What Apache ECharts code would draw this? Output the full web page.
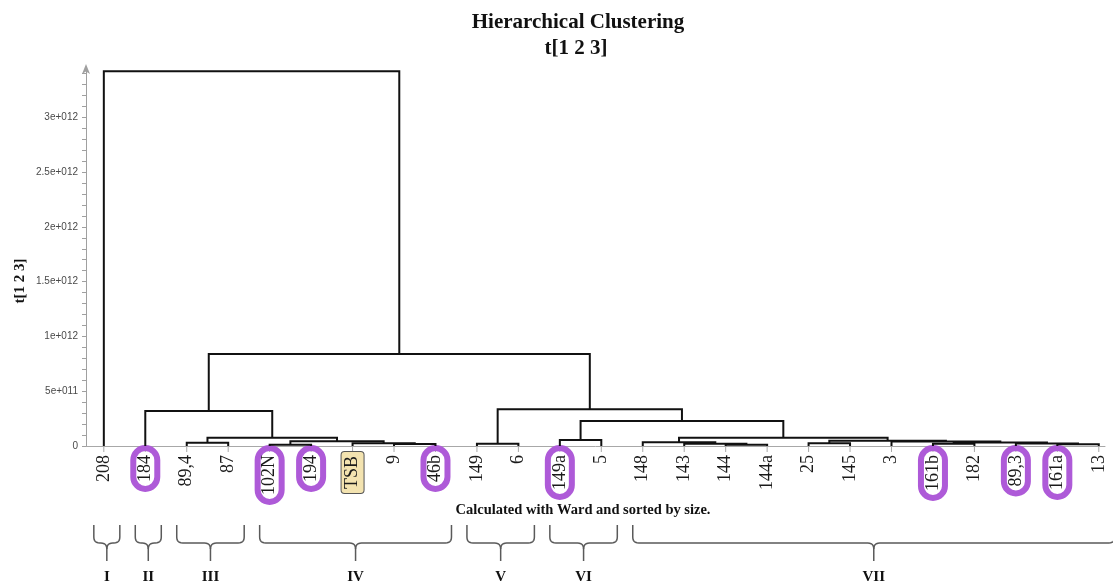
<!DOCTYPE html>
<html>
<head>
<meta charset="utf-8">
<script src="https://cdn.jsdelivr.net/npm/echarts@6/dist/echarts.min.js"></script>
<style>
  html, body { margin: 0; padding: 0; background: #fff; }
  #chart { width: 1113px; height: 585px; }
</style>
</head>
<body>
<div id="chart"></div>
<script>
// Leaves of the dendrogram, left to right
const leafLabels = ['208', '184', '89,4', '87', '102N', '194', 'TSB', '9', '46b',
  '149', '6', '149a', '5', '148', '143', '144', '144a', '25', '145', '3',
  '161b', '182', '89,3', '161a', '13'];

// Leaves drawn with a purple ring, and the reference strain
const ringedLeaves = ['184', '102N', '194', '46b', '149a', '161b', '89,3', '161a'];
const referenceLeaves = ['TSB'];

// Ward linkage: node ids 0..24 are leaves, merge k creates node 25 + k
const mergeLeft  = [2, 7, 6, 4, 28, 25, 1, 9, 11, 15, 14, 13, 17, 20, 23, 22, 38, 19, 37, 36, 33, 32, 31, 0];
const mergeRight = [3, 8, 26, 5, 27, 29, 30, 10, 12, 16, 34, 35, 18, 21, 24, 39, 40, 41, 42, 43, 44, 45, 46, 47];
const mergeHeight = [0.03e12, 0.018e12, 0.025e12, 0.012e12, 0.043e12, 0.076e12, 0.32e12,
  0.02e12, 0.055e12, 0.012e12, 0.02e12, 0.034e12, 0.025e12, 0.02e12, 0.015e12,
  0.022e12, 0.033e12, 0.04e12, 0.047e12, 0.076e12, 0.228e12, 0.335e12, 0.84e12, 3.42e12];

// Y axis labels
const yTickValues = [0, 5e11, 1e12, 1.5e12, 2e12, 2.5e12, 3e12];
const yTickLabels = ['0', '5e+011', '1e+012', '1.5e+012', '2e+012', '2.5e+012', '3e+012'];

// Cluster groups marked with braces under the leaves
const groupNames = ['I', 'II', 'III', 'IV', 'V', 'VI', 'VII'];
const groupFirst = [0, 1, 2, 4, 9, 11, 13];
const groupLast  = [0, 1, 3, 8, 10, 12, 24];

// Node positions: leaves sit at their index, a merge sits between its children
const nodeX = leafLabels.map((_, i) => i);
const nodeH = leafLabels.map(() => 0);
mergeLeft.forEach((l, k) => {
  const r = mergeRight[k];
  nodeX.push((nodeX[l] + nodeX[r]) / 2);
  nodeH.push(mergeHeight[k]);
});

const linkData = mergeLeft.map((l, k) => {
  const r = mergeRight[k];
  return [nodeX[l], nodeX[r], mergeHeight[k], nodeH[l], nodeH[r]];
});
const leafData = leafLabels.map((_, i) => [i, 0]);
const groupData = groupNames.map((_, g) => [groupFirst[g], groupLast[g], 0]);

const SERIF = '"Liberation Serif", "Times New Roman", serif';
const PURPLE = '#ae5ad8';

function quad(p0, c, p1, n) {
  const pts = [];
  for (let i = 1; i <= n; i++) {
    const t = i / n, u = 1 - t;
    pts.push([u * u * p0[0] + 2 * u * t * c[0] + t * t * p1[0],
              u * u * p0[1] + 2 * u * t * c[1] + t * t * p1[1]]);
  }
  return pts;
}

const chart = echarts.init(document.getElementById('chart'), null, { renderer: 'canvas' });

chart.setOption({
  backgroundColor: '#ffffff',
  animation: false,
  title: [
    {
      text: 'Hierarchical Clustering',
      left: 573, top: 7, textAlign: 'center',
      textStyle: { fontFamily: SERIF, fontWeight: 'bold', fontSize: 21, color: '#111' }
    },
    {
      text: 't[1 2 3]',
      left: 571, top: 33, textAlign: 'center',
      textStyle: { fontFamily: SERIF, fontWeight: 'bold', fontSize: 21, color: '#111' }
    },
    {
      text: 'Calculated with Ward and sorted by size.',
      left: 578, top: 498, textAlign: 'center',
      textStyle: { fontFamily: SERIF, fontWeight: 'bold', fontSize: 14.5, color: '#111' }
    }
  ],
  graphic: [
    {
      type: 'text', x: 20, y: 281, rotation: Math.PI / 2,
      style: {
        text: 't[1 2 3]', font: 'bold 15px ' + SERIF, fill: '#111',
        align: 'center', verticalAlign: 'middle'
      }
    }
  ],
  grid: { left: 86, right: 8, top: 68, bottom: 139 },
  xAxis: {
    type: 'value',
    min: -0.43,
    max: 24.15,
    axisLine: { show: true, onZero: false, lineStyle: { color: '#a8a8a8', width: 1 } },
    axisTick: { show: false },
    axisLabel: { show: false },
    splitLine: { show: false }
  },
  yAxis: {
    type: 'value',
    min: 0,
    max: 3.45e12,
    interval: 1e11,
    axisLine: {
      show: true, onZero: false, symbol: ['none', 'arrow'], symbolSize: [6, 10], symbolOffset: [0, 4],
      lineStyle: { color: '#a0a0a0', width: 1 }
    },
    axisTick: { show: true, length: 4, lineStyle: { color: '#a0a0a0' } },
    axisLabel: {
      color: '#4a4a4a', fontSize: 10, fontFamily: '"Liberation Sans", Arial, sans-serif', margin: 8,
      showMaxLabel: false,
      formatter: v => {
        const i = yTickValues.findIndex(t => Math.abs(t - v) < 1e6);
        return i >= 0 ? yTickLabels[i] : '';
      }
    },
    splitLine: { show: false }
  },
  series: [
    {
      // dendrogram links
      type: 'custom',
      coordinateSystem: 'cartesian2d',
      encode: { x: [0, 1], y: [2] },
      data: linkData,
      z: 3,
      renderItem: (params, api) => {
        const xl = api.value(0), xr = api.value(1), h = api.value(2);
        const hl = api.value(3), hr = api.value(4);
        return {
          type: 'polyline',
          shape: { points: [api.coord([xl, hl]), api.coord([xl, h]), api.coord([xr, h]), api.coord([xr, hr])] },
          style: { stroke: '#111', lineWidth: 2, fill: null }
        };
      }
    },
    {
      // leaf ticks and labels
      type: 'custom',
      coordinateSystem: 'cartesian2d',
      encode: { x: 0, y: 1 },
      data: leafData,
      z: 2,
      renderItem: (params, api) => {
        const i = params.dataIndex;
        const p = api.coord([api.value(0), api.value(1)]);
        const name = leafLabels[i];
        const ringed = ringedLeaves.indexOf(name) >= 0;
        const isRef = referenceLeaves.indexOf(name) >= 0;
        const style = {
          text: name, font: '18px ' + SERIF, fill: '#1a1a1a',
          align: 'right', verticalAlign: 'middle'
        };
        let y = p[1] + 9;
        if (ringed) {
          Object.assign(style, {
            borderColor: PURPLE, borderWidth: 3, borderRadius: 13,
            padding: [3, 7, 3, 7], backgroundColor: 'rgba(255,255,255,0)'
          });
          y = p[1] + 2;
        } else if (isRef) {
          Object.assign(style, {
            borderColor: '#555', borderWidth: 1, borderRadius: 3,
            padding: [2, 4, 2, 4], backgroundColor: '#f3e3b0'
          });
          y = p[1] + 6;
        }
        return {
          type: 'group',
          children: [
            {
              type: 'line',
              shape: { x1: p[0], y1: p[1], x2: p[0], y2: p[1] + 6 },
              style: { stroke: '#a8a8a8', lineWidth: 1 }
            },
            { type: 'text', x: p[0], y: y, rotation: Math.PI / 2, style: style }
          ]
        };
      }
    },
    {
      // braces marking clusters I..VII
      type: 'custom',
      coordinateSystem: 'cartesian2d',
      encode: { x: [0, 1], y: 2 },
      data: groupData,
      z: 2,
      renderItem: (params, api) => {
        const g = params.dataIndex;
        const a = api.coord([api.value(0), 0]);
        const b = api.coord([api.value(1), 0]);
        const x1 = a[0] - 10;
        const x2 = Math.min(b[0] + 16, api.getWidth() + 2);
        const mid = (x1 + x2) / 2;
        const T = 525, H = 543, S = 561, r = 6;
        const left = [[x1, T], [x1, H - r]]
          .concat(quad([x1, H - r], [x1, H], [x1 + r, H], 6))
          .concat([[mid - r, H]])
          .concat(quad([mid - r, H], [mid, H], [mid, H + r], 6))
          .concat([[mid, S]]);
        const right = [[x2, T], [x2, H - r]]
          .concat(quad([x2, H - r], [x2, H], [x2 - r, H], 6))
          .concat([[mid + r, H]])
          .concat(quad([mid + r, H], [mid, H], [mid, H + r], 6));
        return {
          type: 'group',
          children: [
            { type: 'polyline', shape: { points: left }, style: { stroke: '#5a5a5a', lineWidth: 1.5, fill: null } },
            { type: 'polyline', shape: { points: right }, style: { stroke: '#5a5a5a', lineWidth: 1.5, fill: null } },
            {
              type: 'text', x: mid, y: 577,
              style: {
                text: groupNames[g], font: 'bold 15px ' + SERIF, fill: '#111',
                align: 'center', verticalAlign: 'middle'
              }
            }
          ]
        };
      }
    }
  ]
});
</script>
</body>
</html>
